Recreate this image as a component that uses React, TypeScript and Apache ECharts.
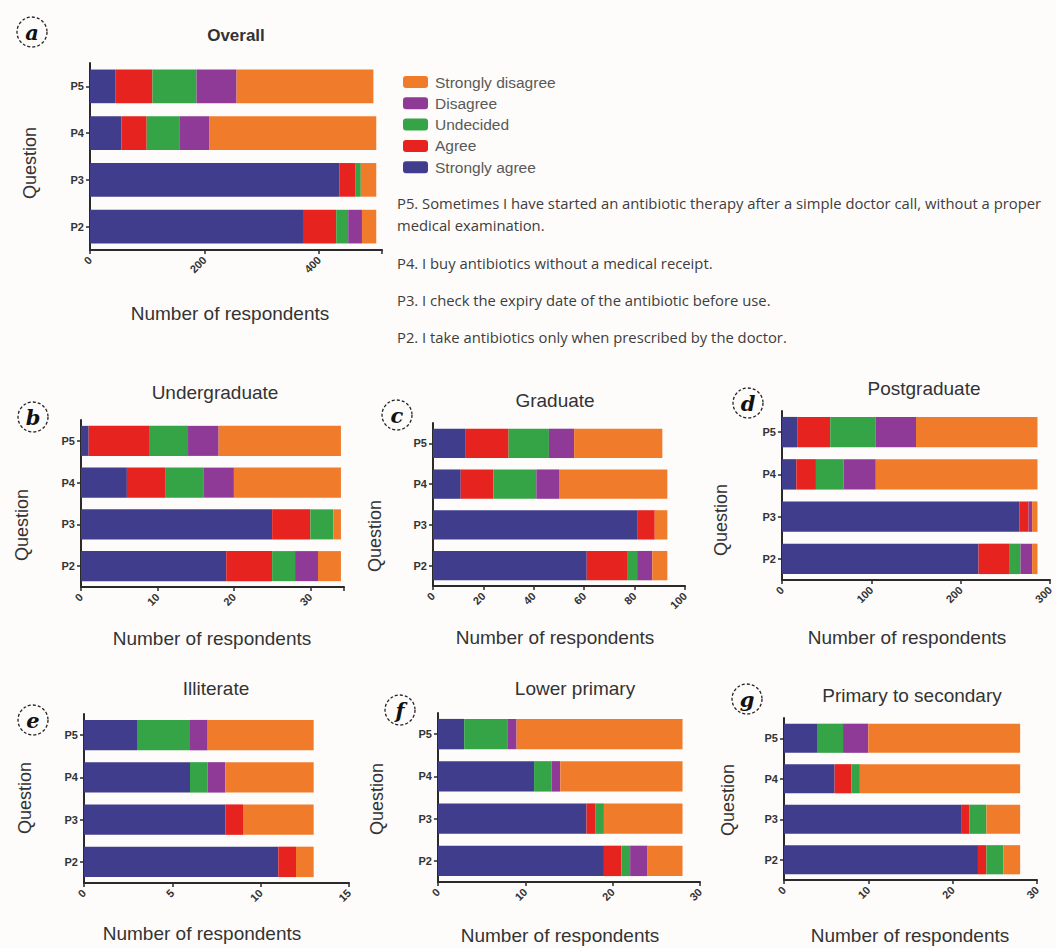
import React, { useEffect, useRef } from 'react';
import * as echarts from 'echarts';

const categories = ['P2', 'P3', 'P4', 'P5'];
const seriesNames = ['Strongly agree', 'Agree', 'Undecided', 'Disagree', 'Strongly disagree'];
const legendOrder = ['Strongly disagree', 'Disagree', 'Undecided', 'Agree', 'Strongly agree'];
const colors = ['#403d8d', '#e7231f', '#34a447', '#8e3a96', '#f07c2b'];

// values in category order P2, P3, P4, P5
const overallStronglyAgree = [372, 436, 55, 44];
const overallAgree = [58, 28, 44, 65];
const overallUndecided = [21, 9, 57, 77];
const overallDisagree = [24, 0, 52, 70];
const overallStronglyDisagree = [25, 27, 292, 239];

const undergradStronglyAgree = [19, 25, 6, 1];
const undergradAgree = [6, 5, 5, 8];
const undergradUndecided = [3, 3, 5, 5];
const undergradDisagree = [3, 0, 4, 4];
const undergradStronglyDisagree = [3, 1, 14, 16];

const graduateStronglyAgree = [61, 81, 11, 13];
const graduateAgree = [16, 7, 13, 17];
const graduateUndecided = [4, 0, 17, 16];
const graduateDisagree = [6, 0, 9, 10];
const graduateStronglyDisagree = [6, 5, 43, 35];

const postgradStronglyAgree = [220, 266, 16, 17];
const postgradAgree = [35, 10, 22, 37];
const postgradUndecided = [12, 0, 31, 51];
const postgradDisagree = [13, 4, 36, 45];
const postgradStronglyDisagree = [6, 6, 181, 136];

const illiterateStronglyAgree = [11, 8, 6, 3];
const illiterateAgree = [1, 1, 0, 0];
const illiterateUndecided = [0, 0, 1, 3];
const illiterateDisagree = [0, 0, 1, 1];
const illiterateStronglyDisagree = [1, 4, 5, 6];

const lowerPrimaryStronglyAgree = [19, 17, 11, 3];
const lowerPrimaryAgree = [2, 1, 0, 0];
const lowerPrimaryUndecided = [1, 1, 2, 5];
const lowerPrimaryDisagree = [2, 0, 1, 1];
const lowerPrimaryStronglyDisagree = [4, 9, 14, 19];

const primSecStronglyAgree = [23, 21, 6, 4];
const primSecAgree = [1, 1, 2, 0];
const primSecUndecided = [2, 2, 1, 3];
const primSecDisagree = [0, 0, 0, 3];
const primSecStronglyDisagree = [2, 4, 19, 18];

const panelTitles = ['Overall', 'Undergraduate', 'Graduate', 'Postgraduate', 'Illiterate', 'Lower primary', 'Primary to secondary'];
const panelLetters = ['a', 'b', 'c', 'd', 'e', 'f', 'g'];
const axisMax = [510, 34.4, 100, 300, 15, 30, 30];
const axisInterval = [200, 10, 20, 100, 5, 10, 10];

const questionTexts = [
  'P5. Sometimes I have started an antibiotic therapy after a simple doctor call, without a proper',
  'medical examination.',
  'P4. I buy antibiotics without a medical receipt.',
  'P3. I check the expiry date of the antibiotic before use.',
  'P2. I take antibiotics only when prescribed by the doctor.',
];

const panelData = [
  [overallStronglyAgree, overallAgree, overallUndecided, overallDisagree, overallStronglyDisagree],
  [undergradStronglyAgree, undergradAgree, undergradUndecided, undergradDisagree, undergradStronglyDisagree],
  [graduateStronglyAgree, graduateAgree, graduateUndecided, graduateDisagree, graduateStronglyDisagree],
  [postgradStronglyAgree, postgradAgree, postgradUndecided, postgradDisagree, postgradStronglyDisagree],
  [illiterateStronglyAgree, illiterateAgree, illiterateUndecided, illiterateDisagree, illiterateStronglyDisagree],
  [lowerPrimaryStronglyAgree, lowerPrimaryAgree, lowerPrimaryUndecided, lowerPrimaryDisagree, lowerPrimaryStronglyDisagree],
  [primSecStronglyAgree, primSecAgree, primSecUndecided, primSecDisagree, primSecStronglyDisagree],
];

// layout
const grids = [
  { left: 90, top: 63, width: 292, height: 187 },
  { left: 81, top: 420, width: 263, height: 167 },
  { left: 433, top: 423, width: 252, height: 163 },
  { left: 782, top: 411, width: 270, height: 169 },
  { left: 84, top: 714, width: 265, height: 169 },
  { left: 438, top: 713, width: 262, height: 169 },
  { left: 784, top: 718, width: 253, height: 162 },
];
const titlePos = [[236, 35], [215, 392], [555, 400], [924, 388], [216, 688], [575, 688], [912, 695]];
const questionPos = [[30, 163], [22, 525], [375, 536], [721, 520], [25, 798], [377, 799], [728, 800]];
const xNamePos = [[230, 313], [212, 638], [555, 637], [907, 637], [202, 933], [560, 935], [910, 935]];
const letterPos = [[32, 32], [33, 417], [397, 415], [748, 403], [33, 720], [400, 710], [747, 699]];
const questionTextY = [203, 225, 263, 300, 337];

const FONT = '"Liberation Sans", Arial, sans-serif';

export default function App() {
  const ref = useRef<HTMLDivElement>(null);
  useEffect(() => {
    if (!ref.current) return;
    const chart = echarts.init(ref.current, null, { renderer: 'svg' });

    const series: any[] = [];
    panelData.forEach((groups, pi) => {
      groups.forEach((vals, k) => {
        series.push({
          type: 'bar',
          name: seriesNames[k],
          stack: 'panel' + pi,
          xAxisIndex: pi,
          yAxisIndex: pi,
          data: vals,
          barCategoryGap: '28%',
          itemStyle: { color: colors[k] },
          emphasis: { disabled: true },
        });
      });
    });

    const graphic: any[] = [];
    panelTitles.forEach((t, i) => {
      graphic.push({
        type: 'text', x: titlePos[i][0], y: titlePos[i][1],
        style: { text: t, align: 'center', verticalAlign: 'middle', fontSize: i === 0 ? 17 : 19, fontWeight: i === 0 ? 'bold' : 'normal', fill: '#333', fontFamily: FONT },
      });
      graphic.push({
        type: 'text', x: questionPos[i][0], y: questionPos[i][1], rotation: Math.PI / 2,
        style: { text: 'Question', align: 'center', verticalAlign: 'middle', fontSize: 18, fill: '#333', fontFamily: FONT },
      });
      graphic.push({
        type: 'text', x: xNamePos[i][0], y: xNamePos[i][1],
        style: { text: 'Number of respondents', align: 'center', verticalAlign: 'middle', fontSize: 19, fill: '#333', fontFamily: FONT },
      });
      graphic.push({
        type: 'circle', shape: { cx: letterPos[i][0], cy: letterPos[i][1], r: 15 },
        style: { fill: 'none', stroke: '#222', lineWidth: 1.3, lineDash: [3, 2] },
      });
      graphic.push({
        type: 'text', x: letterPos[i][0], y: letterPos[i][1],
        style: { text: panelLetters[i], align: 'center', verticalAlign: 'middle', fontSize: 21, fontStyle: 'italic', fontWeight: 'bold', fill: '#111', fontFamily: '"DejaVu Serif", "Liberation Serif", serif' },
      });
    });
    questionTexts.forEach((t, i) => {
      graphic.push({
        type: 'text', x: 397, y: questionTextY[i],
        style: { text: t, align: 'left', verticalAlign: 'middle', fontSize: 14.8, fill: '#3d3d3d', fontFamily: '"Open Sans", sans-serif' },
      });
    });

    chart.setOption({
      animation: false,
      backgroundColor: '#fdfcfa',
      legend: {
        data: legendOrder,
        orient: 'vertical',
        left: 398,
        top: 69,
        itemWidth: 25,
        itemHeight: 12,
        itemGap: 5.3,
        icon: 'roundRect',
        selectedMode: false,
        textStyle: { fontSize: 15.5, color: '#595959', fontFamily: FONT, padding: [0, 0, 0, 2] },
      },
      grid: grids.map((g) => ({ ...g, containLabel: false })),
      xAxis: grids.map((_, i) => ({
        type: 'value',
        gridIndex: i,
        min: 0,
        max: axisMax[i],
        interval: axisInterval[i],
        splitLine: { show: false },
        axisLine: { show: true, lineStyle: { color: '#2a2a2a', width: 2 } },
        axisTick: { show: true, length: 4, lineStyle: { color: '#2a2a2a', width: 1.5 } },
        axisLabel: {
          rotate: 45, fontSize: 11, fontWeight: 'bold', color: '#333', margin: 8, fontFamily: FONT,
          formatter: (v: number) => (Math.abs(v / axisInterval[i] - Math.round(v / axisInterval[i])) < 1e-6 ? String(v) : ''),
        },
      })),
      yAxis: grids.map((_, i) => ({
        type: 'category',
        gridIndex: i,
        data: categories,
        axisLine: { show: true, lineStyle: { color: '#2a2a2a', width: 2 } },
        axisTick: { show: true, alignWithLabel: true, length: 4, lineStyle: { color: '#2a2a2a', width: 1.5 } },
        axisLabel: { fontSize: 11, fontWeight: 'bold', color: '#333', margin: 6, fontFamily: FONT },
      })),
      series,
      graphic,
    });
    return () => chart.dispose();
  }, []);
  return <div ref={ref} style={{ position: 'fixed', left: 0, top: 0, width: 1056, height: 948 }} />;
}
